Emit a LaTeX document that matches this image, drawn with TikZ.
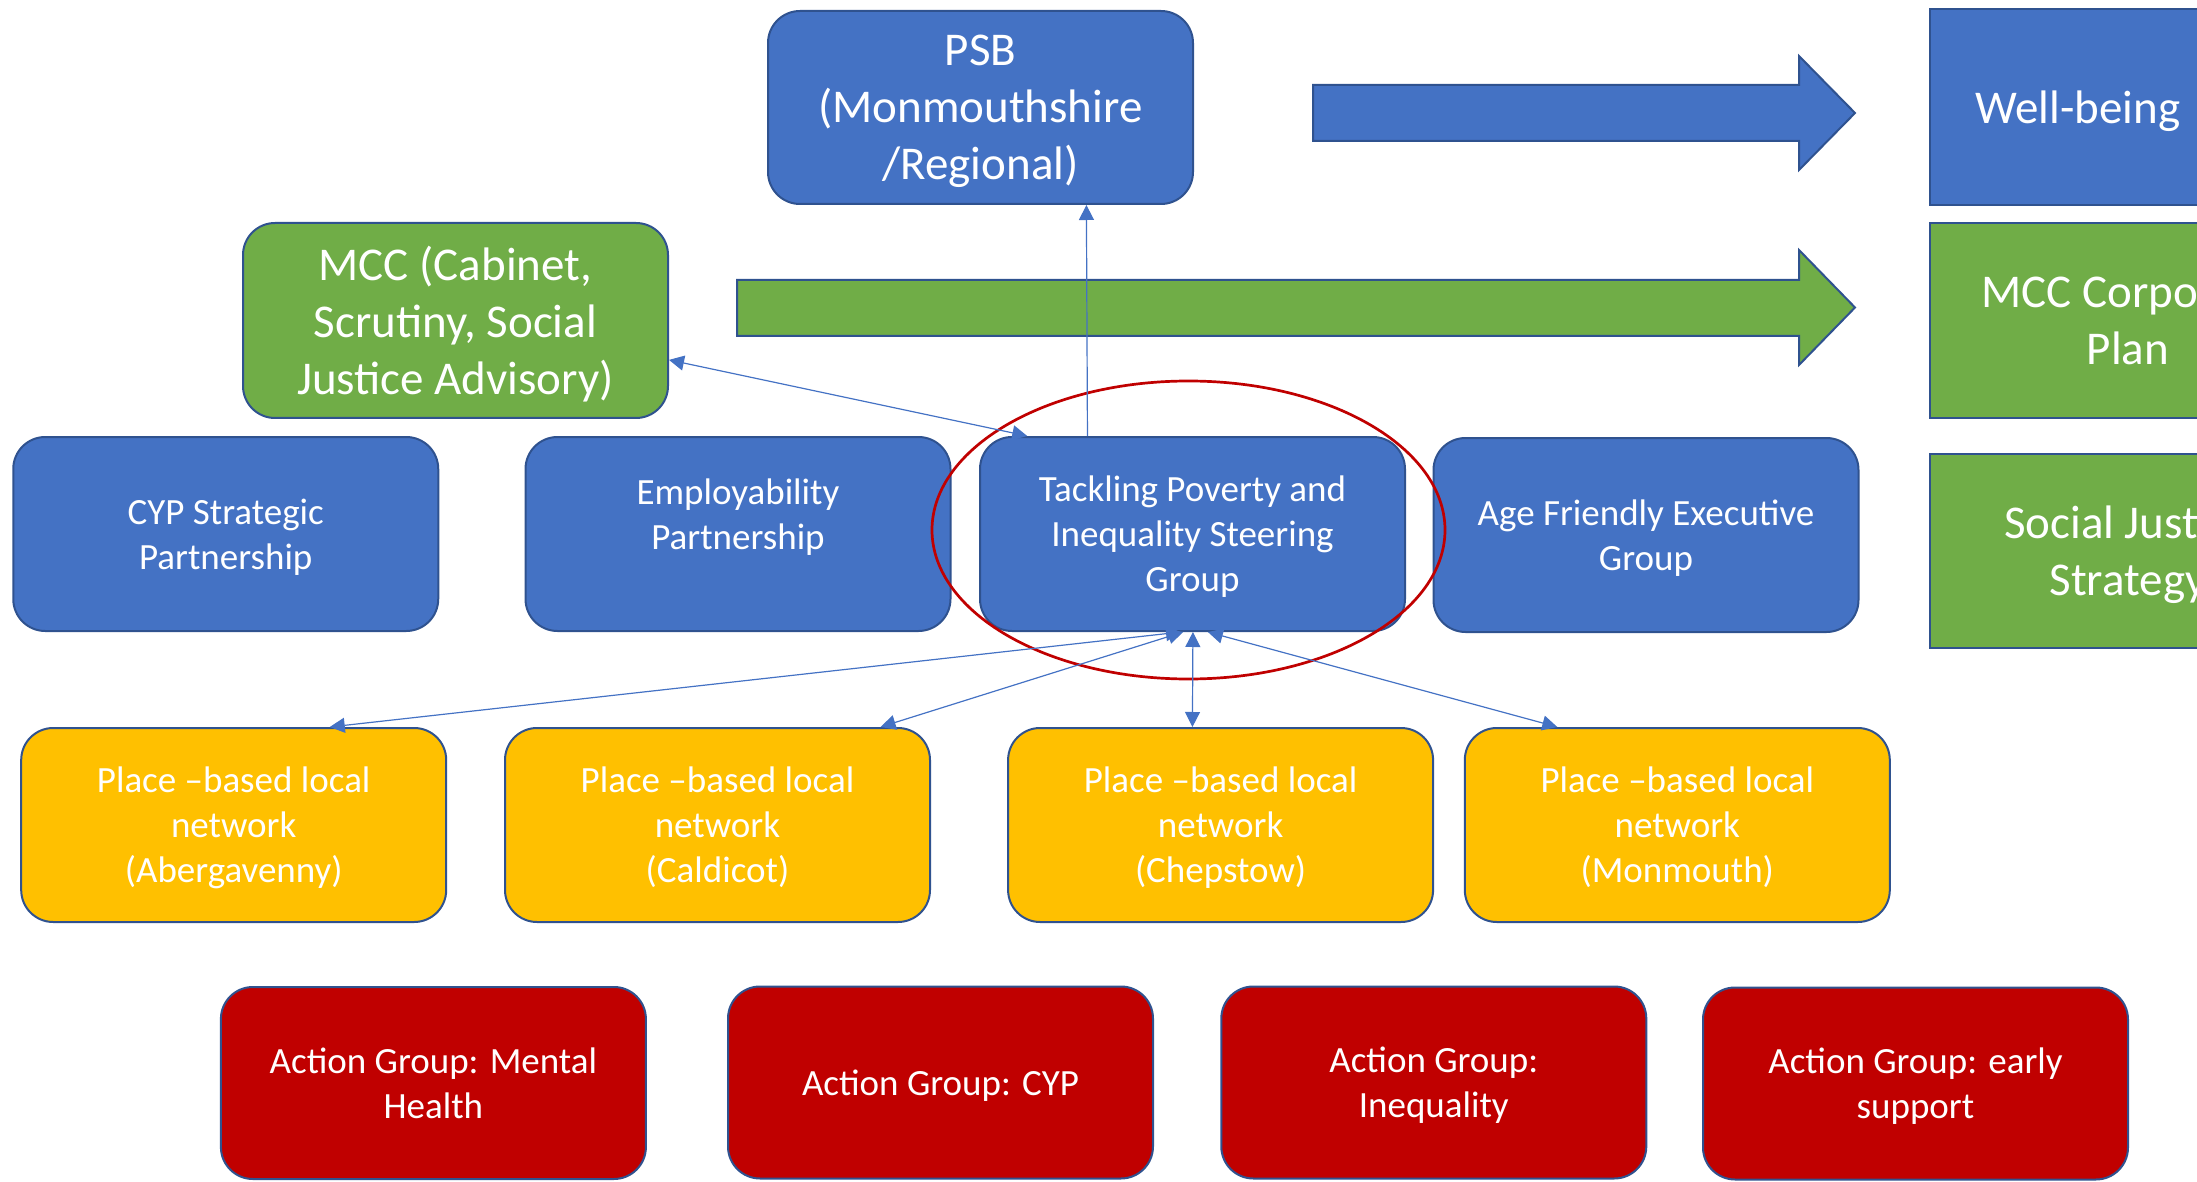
\documentclass[tikz,border=0pt]{standalone}
\usepackage{fontspec}
\setmainfont{Carlito}
\usetikzlibrary{arrows.meta,calc}
\definecolor{bdr}{HTML}{2F528F}
\definecolor{cblue}{HTML}{4472C4}
\definecolor{cgreen}{HTML}{70AD47}
\definecolor{cyellow}{HTML}{FFC000}
\definecolor{cred}{HTML}{C00000}
\begin{document}
\begin{tikzpicture}[x=0.5pt,y=-0.5pt,
  >={Triangle[length=7.5pt,width=7.5pt]},
  base/.style={draw=bdr,line width=1pt,text=white,align=center,inner sep=0pt,
    minimum width=212.5pt,minimum height=97pt,text depth=0pt},
  rbox/.style={base,rounded corners=16pt},
  bigf/.style={font=\fontsize{23.5pt}{28.5pt}\selectfont},
  smallf/.style={font=\fontsize{18.5pt}{22.5pt}\selectfont},
  bluebox/.style={rbox,fill=cblue,smallf},
  yellowbox/.style={rbox,fill=cyellow,smallf},
  redbox/.style={rbox,fill=cred,smallf,minimum height=96pt},
  sidebox/.style={base,fill=#1,bigf,minimum width=198pt},
  conn/.style={draw=cblue,line width=0.6pt},
  bigarrow/.style={draw=bdr,line width=1pt,fill=#1}
]
\clip (0,0) rectangle (2197,1182);

% top row
\node[rbox,fill=cblue,bigf,minimum height=96.5pt] (psb) at (980.5,107.5) {PSB\\(Monmouthshire\\/Regional)};
\node[rbox,fill=cgreen,bigf,minimum height=97.5pt] (mcc) at (455.5,320.5) {MCC (Cabinet,\\Scrutiny, Social\\Justice Advisory)};

% right side boxes
\node[sidebox=cblue,minimum height=98pt] (wb) at (2128,107) {};
\node[bigf,text=white,anchor=west,inner sep=0pt] (wbtext) at (1975,111) {Well-being};
\node[sidebox=cgreen,minimum height=97.5pt] (corp) at (2128,320.5) {MCC Corporate\\Plan};
\node[sidebox=cgreen,minimum height=97pt] (sjs) at (2128,551) {Social Justice\\Strategy};

% big arrows
\draw[bigarrow=cblue] (1313,85) -- (1799,85) -- (1799,56) -- (1855,113) -- (1799,170) -- (1799,141) -- (1313,141) -- cycle;
\draw[bigarrow=cgreen] (737,280) -- (1799,280) -- (1799,250) -- (1855,307.5) -- (1799,365) -- (1799,336) -- (737,336) -- cycle;

% second row
\node[bluebox] (cyp) at (225.75,534) {CYP Strategic\\Partnership};
\node[bluebox] (emp) at (738,534) {};
\node[smallf,text=white,align=center,inner sep=0pt,text depth=0pt] (emptext) at (738,514) {Employability\\Partnership};
\node[bluebox] (tp) at (1192.5,534) {Tackling Poverty and\\Inequality Steering\\Group};
\node[bluebox] (age) at (1646,535) {Age Friendly Executive\\Group};

% third row
\node[yellowbox] (ab) at (233.7,825) {Place {\textendash}based local\\network\\(Abergavenny)};
\node[yellowbox] (cal) at (717.5,825) {Place {\textendash}based local\\network\\(Caldicot)};
\node[yellowbox] (chep) at (1220.6,825) {Place {\textendash}based local\\network\\(Chepstow)};
\node[yellowbox] (mon) at (1677.3,825) {Place {\textendash}based local\\network\\(Monmouth)};

% fourth row
\node[redbox] (ag1) at (433.4,1083) {Action Group: Mental\\Health};
\node[redbox] (ag2) at (940.5,1082.5) {Action Group: CYP};
\node[redbox] (ag3) at (1433.8,1082.5) {Action Group:\\Inequality};
\node[redbox] (ag4) at (1915.5,1083.5) {Action Group: early\\support};

% red ellipse
\draw[cred,line width=1.35pt] (1188.5,530) ellipse [x radius=128.25pt,y radius=74.5pt];

% connectors
\draw[conn,->] ($(tp.north west)!0.254!(tp.north east)$) -- ($(psb.south west)!0.748!(psb.south east)$);
\draw[conn,<->] ($(tp.north west)!0.113!(tp.north east)$) -- ($(mcc.north east)!0.70!(mcc.south east)$);
\draw[conn,<->] ($(tp.south west)!0.473!(tp.south east)$) -- ($(ab.north west)!0.725!(ab.north east)$);
\draw[conn,<->] ($(tp.south west)!0.478!(tp.south east)$) -- ($(cal.north west)!0.882!(cal.north east)$);
\draw[conn,<->] ($(tp.south west)!0.501!(tp.south east)$) -- ($(chep.north west)!0.434!(chep.north east)$);
\draw[conn,<->] ($(tp.south west)!0.536!(tp.south east)$) -- ($(mon.north west)!0.219!(mon.north east)$);
\end{tikzpicture}
\end{document}
